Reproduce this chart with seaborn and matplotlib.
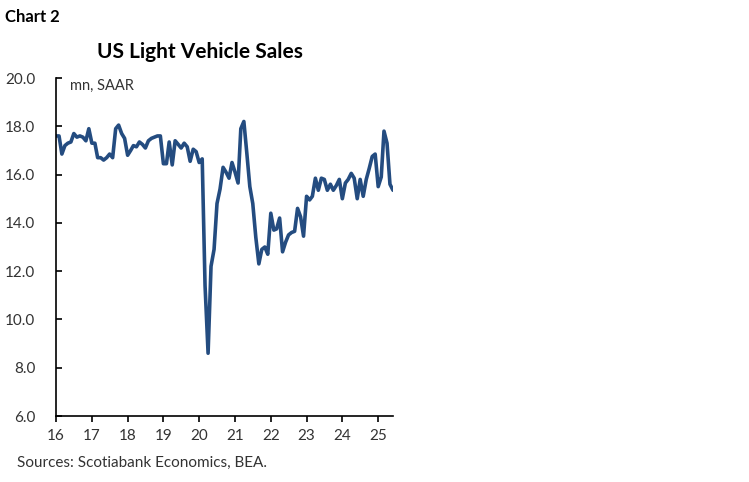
import matplotlib
matplotlib.use("Agg")
import matplotlib.pyplot as plt
import seaborn as sns
import pandas as pd

# Monthly US light vehicle sales, mn SAAR, Jan 2016 - Jun 2025
sales_2016 = [17.6, 17.6, 16.85, 17.2, 17.3, 17.35, 17.7, 17.55, 17.6, 17.55, 17.4, 17.9]
sales_2017 = [17.3, 17.3, 16.7, 16.7, 16.6, 16.7, 16.85, 16.7, 17.9, 18.05, 17.7, 17.5]
sales_2018 = [16.8, 17.0, 17.2, 17.15, 17.35, 17.25, 17.1, 17.4, 17.5, 17.55, 17.6, 17.6]
sales_2019 = [16.45, 16.45, 17.35, 16.4, 17.4, 17.25, 17.1, 17.3, 17.15, 16.55, 17.05, 16.95]
sales_2020 = [16.5, 16.65, 11.4, 8.6, 12.2, 12.9, 14.8, 15.4, 16.3, 16.1, 15.85, 16.5]
sales_2021 = [16.1, 15.65, 17.9, 18.2, 16.9, 15.5, 14.8, 13.4, 12.3, 12.9, 13.0, 12.7]
sales_2022 = [14.4, 13.7, 13.75, 14.2, 12.8, 13.2, 13.5, 13.6, 13.65, 14.6, 14.25, 13.45]
sales_2023 = [15.1, 14.95, 15.1, 15.85, 15.35, 15.85, 15.8, 15.35, 15.6, 15.35, 15.55, 15.8]
sales_2024 = [15.0, 15.65, 15.8, 16.05, 15.85, 15.0, 15.8, 15.1, 15.8, 16.25, 16.75, 16.85]
sales_2025 = [15.5, 15.9, 17.8, 17.3, 15.6, 15.35]

values = (sales_2016 + sales_2017 + sales_2018 + sales_2019 + sales_2020 +
          sales_2021 + sales_2022 + sales_2023 + sales_2024 + sales_2025)
dates = pd.date_range("2016-01-01", periods=len(values), freq="MS")

year_ticks = [pd.Timestamp(f"{y}-01-01") for y in range(2016, 2026)]
year_labels = ["16", "17", "18", "19", "20", "21", "22", "23", "24", "25"]
y_ticks = [6, 8, 10, 12, 14, 16, 18, 20]

df = pd.DataFrame({"date": dates, "sales": values})

sns.set_style("ticks")
plt.rcParams["font.family"] = ["Lato", "DejaVu Sans"]

fig = plt.figure(figsize=(7.49, 4.82), dpi=100)
ax = fig.add_axes([56 / 749, 1 - 416 / 482, (393 - 56) / 749, (416 - 78) / 482])

sns.lineplot(data=df, x="date", y="sales", ax=ax, color="#244c80", linewidth=2.6)

ax.set_ylim(6, 20)
ax.set_yticks(y_ticks)
ax.set_yticklabels([f"{v:.1f}" for v in y_ticks])
ax.set_xlim(pd.Timestamp("2016-01-01"), pd.Timestamp("2025-06-01"))
ax.set_xticks(year_ticks)
ax.set_xticklabels(year_labels)
ax.set_xlabel("")
ax.set_ylabel("")

for side in ["top", "right"]:
    ax.spines[side].set_visible(False)
for side in ["left", "bottom"]:
    ax.spines[side].set_color("black")
    ax.spines[side].set_linewidth(1.2)

ax.tick_params(axis="y", direction="in", length=4, width=1.2, color="black",
               labelsize=11, labelcolor="#333333", pad=15)
ax.tick_params(axis="x", direction="out", length=4, width=1.2, color="black",
               labelsize=11, labelcolor="#333333", pad=5)

fig.text(5 / 749, 1 - 17 / 482, "Chart 2", fontsize=12, fontweight="bold",
         va="center", ha="left", color="black")
fig.text(200 / 749, 1 - 52 / 482, "US Light Vehicle Sales", fontsize=15,
         fontweight="bold", va="center", ha="center", color="black")
fig.text(70 / 749, 1 - 86 / 482, "mn, SAAR", fontsize=10.5, va="center",
         ha="left", color="#333333")
fig.text(17 / 749, 1 - 463 / 482, "Sources: Scotiabank Economics, BEA.",
         fontsize=11, va="center", ha="left", color="#333333")

fig.savefig("out.png", dpi=100)
